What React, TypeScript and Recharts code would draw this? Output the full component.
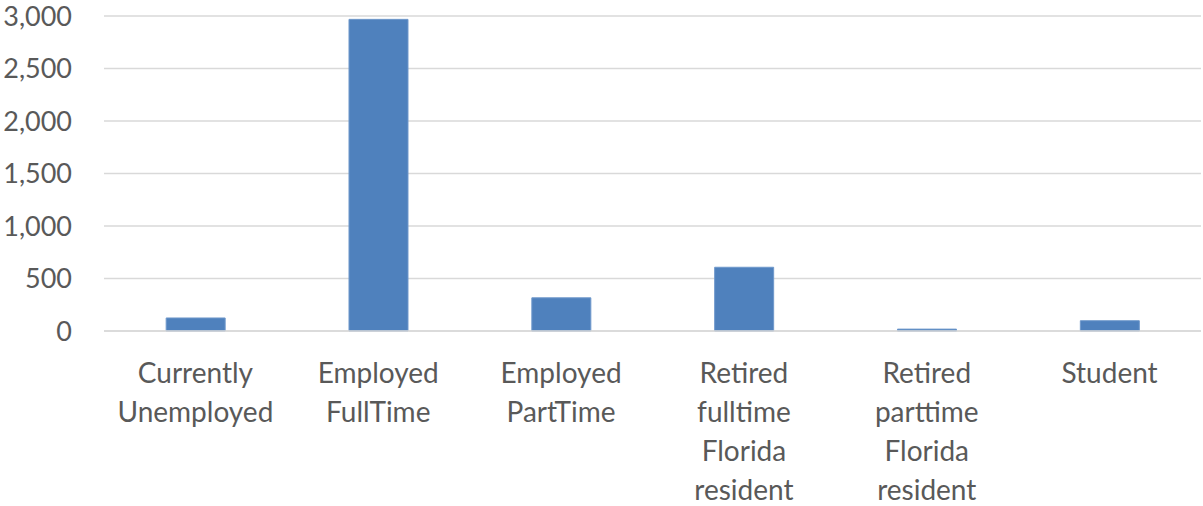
import { Bar, BarChart, CartesianGrid, XAxis, YAxis } from 'recharts';

const categories = [
  'Currently Unemployed',
  'Employed FullTime',
  'Employed PartTime',
  'Retired fulltime Florida resident',
  'Retired parttime Florida resident',
  'Student',
];
const counts = [124, 2968, 316, 607, 18, 98];
const yTicks = [0, 500, 1000, 1500, 2000, 2500, 3000];

const data = categories.map((category, i) => ({ category, count: counts[i] }));

const FONT = 'Lato, "Open Sans", sans-serif';
const INK = '#595959';

function WrappedTick({ x, y, payload }: any) {
  const words = String(payload.value).split(' ');
  return (
    <text x={x} y={y} textAnchor="middle" fill={INK} fontSize={28} fontFamily={FONT}>
      {words.map((word, i) => (
        <tspan key={i} x={x} dy={i === 0 ? 44 : 39}>
          {word}
        </tspan>
      ))}
    </text>
  );
}

function App() {
  return (
    <div style={{ position: 'fixed', top: 0, left: 0, width: 1203, height: 506, background: '#fff' }}>
      <BarChart
        width={1203}
        height={506}
        data={data}
        margin={{ top: 16, right: 2, bottom: 0, left: 0 }}
        barCategoryGap="34%"
      >
        <CartesianGrid vertical={false} stroke="#d9d9d9" strokeWidth={1.5} />
        <XAxis
          dataKey="category"
          height={175}
          interval={0}
          tickLine={false}
          axisLine={{ stroke: '#d9d9d9', strokeWidth: 1.5 }}
          tick={<WrappedTick />}
        />
        <YAxis
          width={104}
          domain={[0, 3000]}
          ticks={yTicks}
          tickFormatter={(v: number) => v.toLocaleString('en-US')}
          axisLine={false}
          tickLine={false}
          tickSize={0}
          tickMargin={32}
          tick={{ fill: INK, fontSize: 27, fontFamily: FONT }}
        />
        <Bar dataKey="count" fill="#4f81bd" stroke="#6f98cb" strokeWidth={1} isAnimationActive={false} />
      </BarChart>
    </div>
  );
}

export default App;
